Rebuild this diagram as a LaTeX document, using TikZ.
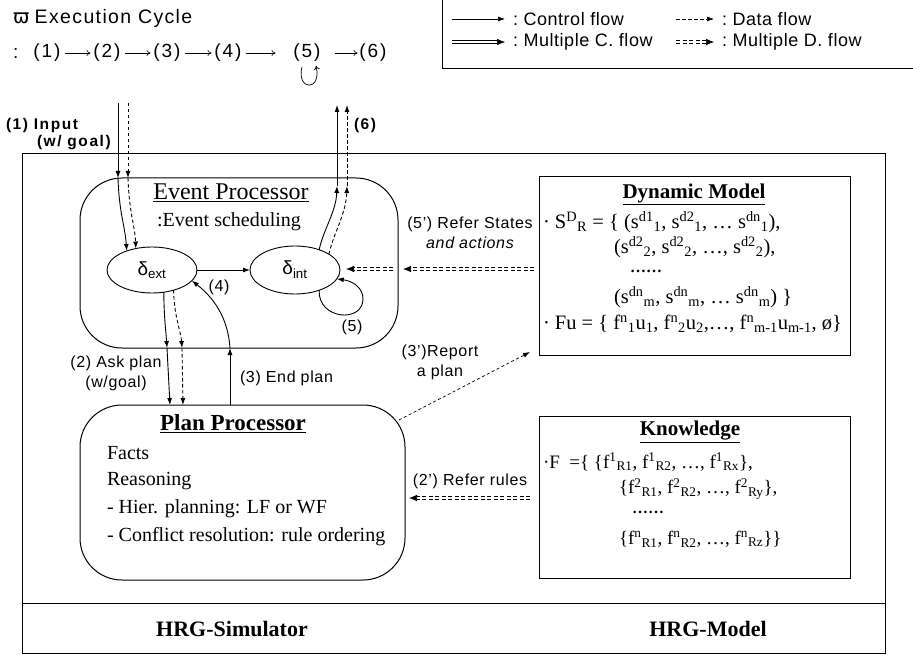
\documentclass[tikz,border=0pt]{standalone}
\usepackage{fontspec}
\setmainfont{Liberation Serif}
\setsansfont{Liberation Sans}
\newfontfamily\symfont{DejaVu Sans}
\usetikzlibrary{arrows.meta,shapes.geometric,calc}

% superscript followed by a staggered subscript
\newcommand{\supsub}[3]{#1\textsuperscript{#2}\textsubscript{#3}}

\begin{document}
\begin{tikzpicture}[x=1pt,y=-1pt,
  every node/.style={inner sep=0pt,outer sep=0pt},
  cflow/.style={line width=0.9pt,-{Latex[length=7pt,width=5pt]}},
  dflow/.style={line width=0.9pt,dash pattern=on 3.5pt off 2.5pt,-{Latex[length=7pt,width=5pt]}},
  thindash/.style={line width=0.7pt,dash pattern=on 3pt off 2.5pt,-{Latex[length=7pt,width=5pt]}},
  mcflow/.style={line width=0.7pt,double,double distance=2.2pt,-{Latex[length=8pt,width=6.5pt]}},
  mdflow/.style={line width=0.7pt,double,double distance=2.2pt,dash pattern=on 4pt off 2.5pt,-{Latex[length=8pt,width=6.5pt]}},
  seqarrow/.style={line width=0.6pt,-{To[length=4pt,width=6pt]}},
  procbox/.style={draw,line width=1pt,rounded corners=42pt},
  modelbox/.style={draw,line width=1pt},
  frame/.style={draw,line width=0.9pt},
  lbl/.style={font=\sffamily\fontsize{16}{20}\selectfont\addfontfeature{LetterSpace=4}},
  blbl/.style={font=\sffamily\bfseries\fontsize{15.5}{18}\selectfont\addfontfeature{LetterSpace=10}},
  legtext/.style={font=\sffamily\fontsize{18}{20}\selectfont\addfontfeature{LetterSpace=3},anchor=west},
  seqtext/.style={font=\sffamily\fontsize{19}{22}\selectfont\addfontfeature{LetterSpace=10}},
  body/.style={font=\fontsize{20}{22}\selectfont,anchor=west},
  mtext/.style={font=\fontsize{20.5}{22}\selectfont,anchor=west},
  ktext/.style={font=\fontsize{19}{21}\selectfont,anchor=west},
  dotrow/.style={font=\bfseries\fontsize{16}{16}\selectfont,anchor=west},
  ellipsenode/.style={draw,ellipse,line width=0.9pt,font=\sffamily\fontsize{19}{21}\selectfont},
]
\useasboundingbox (0,0) rectangle (913,655);

% ---------- heading and execution cycle ----------
\node[anchor=west,font=\sffamily\fontsize{19.5}{22}\selectfont] (head) at (13,18)
  {{\symfont ϖ}\ \addfontfeature{LetterSpace=7}Execution Cycle};
\node[seqtext,anchor=west] (s0) at (13,53) {:};
\node[seqtext] (s1) at (47,53) {(1)};
\node[seqtext] (s2) at (107,53) {(2)};
\node[seqtext] (s3) at (167,53) {(3)};
\node[seqtext] (s4) at (228,53) {(4)};
\node[seqtext] (s5) at (307,53) {(5)};
\node[seqtext] (s6) at (373,53) {(6)};
\draw[seqarrow] ($(s1.east)+(4,0)$) -- ($(s2.west)+(-3,0)$);
\draw[seqarrow] ($(s2.east)+(4,0)$) -- ($(s3.west)+(-3,0)$);
\draw[seqarrow] ($(s3.east)+(4,0)$) -- ($(s4.west)+(-3,0)$);
\draw[seqarrow] ($(s4.east)+(4,0)$) -- ($(s4.east)+(34,0)$);
\draw[seqarrow] ($(s5.east)+(14,0)$) -- ($(s6.west)+(-2,0)$);
\coordinate (lpA) at ($(s5.south)+(-5,5)$);
\coordinate (lpB) at ($(s5.south)+(9,4)$);
\draw[line width=0.7pt,-{To[length=4pt,width=6pt]}] (lpA)
  .. controls +(-6,24) and +(6,26) .. (lpB);

% ---------- legend ----------
\node[frame,minimum width=474pt,minimum height=70pt] (legend) at (679,33) {};
\coordinate (l1a) at (452,19); \coordinate (l1b) at (505,19);
\coordinate (l2a) at (676,19); \coordinate (l2b) at (714,19);
\coordinate (l3a) at (452,42); \coordinate (l3b) at (505,42);
\coordinate (l4a) at (676,42); \coordinate (l4b) at (714,42);
\draw[cflow,line width=0.6pt] (l1a) -- (l1b);
\draw[dflow,line width=0.6pt] (l2a) -- (l2b);
\draw[mcflow,line width=0.6pt] (l3a) -- (l3b);
\draw[mdflow,line width=0.6pt] (l4a) -- (l4b);
\node[legtext] (lt1) at (513,19) {:\ Control flow};
\node[legtext] (lt2) at (722,19) {:\ Data flow};
\node[legtext] (lt3) at (513,42) {:\ Multiple C. flow};
\node[legtext] (lt4) at (722,42) {:\ Multiple D. flow};

% ---------- outer frame ----------
\node[frame,minimum width=863pt,minimum height=500pt] (outer) at (453.5,403) {};
\draw[line width=0.9pt] (outer.west |- 0,603) -- (outer.east |- 0,603);
\node[font=\bfseries\fontsize{22}{24}\selectfont] (sim) at (232,629) {HRG-Simulator};
\node[font=\bfseries\fontsize{22}{24}\selectfont] (mdl) at (708,629) {HRG-Model};

% ---------- event processor ----------
\node[procbox,minimum width=318pt,minimum height=170pt] (ep) at (239,263) {};
\node[font=\fontsize{24}{26}\selectfont] (eptitle) at (231,193) {\underline{Event Processor}};
\node[font=\fontsize{20}{22}\selectfont] (epsub) at (229,222) {:Event scheduling};
\node[ellipsenode,minimum width=90pt,minimum height=46pt] (dext) at (152,270) {δ\textsubscript{ext}};
\node[ellipsenode,minimum width=90pt,minimum height=48pt] (dint) at (295,270) {δ\textsubscript{int}};

% ---------- plan processor ----------
\node[procbox,minimum width=325pt,minimum height=175pt] (pp) at (242.5,492.5) {};
\node[font=\bfseries\fontsize{23}{25}\selectfont] (pptitle) at (233,424) {\underline{Plan Processor}};
\node[body] (pp1) at (107,453) {Facts};
\node[body] (pp2) at (107,481) {Reasoning};
\node[body] (pp3) at (107,509) {- Hier. planning: LF or WF};
\node[body] (pp4) at (107,537) {- Conflict resolution: rule ordering};

% ---------- dynamic model ----------
\node[modelbox,minimum width=311pt,minimum height=178pt] (dm) at (694.5,266) {};
\node[font=\bfseries\fontsize{21}{23}\selectfont] (dmtitle) at (694,194) {\underline{Dynamic Model}};
\node[mtext] (dm1) at (543,222) {· \supsub{S}{D}{R} = \{ (\supsub{s}{d1}{1}, \supsub{s}{d2}{1}, … \supsub{s}{dn}{1}),};
\node[mtext] (dm2) at (614,247) {(\supsub{s}{d2}{2}, \supsub{s}{d2}{2}, …, \supsub{s}{d2}{2}),};
\node[dotrow] (dm3) at (630,271) {……};
\node[mtext] (dm4) at (614,297) {(\supsub{s}{dn}{m}, \supsub{s}{dn}{m}, … \supsub{s}{dn}{m}) \}};
\node[mtext] (dm5) at (543,324) {· Fu = \{ \supsub{f}{n}{1}u\textsubscript{1}, \supsub{f}{n}{2}u\textsubscript{2},…, \supsub{f}{n}{m-1}u\textsubscript{m-1}, ø\}};

% ---------- knowledge ----------
\node[modelbox,minimum width=311pt,minimum height=162pt] (kn) at (694.5,497) {};
\node[font=\bfseries\fontsize{21}{23}\selectfont] (kntitle) at (690,432) {\underline{Knowledge}};
\node[ktext] (kn1) at (543,462) {·F\ \ =\{ \{\supsub{f}{1}{R1}, \supsub{f}{1}{R2}, …, \supsub{f}{1}{Rx}\},};
\node[ktext] (kn2) at (619,489) {\{\supsub{f}{2}{R1}, \supsub{f}{2}{R2}, …, \supsub{f}{2}{Ry}\},};
\node[dotrow] (kn3) at (632,512) {……};
\node[ktext] (kn4) at (619,539) {\{\supsub{f}{n}{R1}, \supsub{f}{n}{R2}, …, \supsub{f}{n}{Rz}\}\}};

% ---------- labels ----------
\node[blbl,anchor=west] (in1) at (6,125) {(1) Input};
\node[blbl,anchor=west] (in2) at (37,143) {(w/ goal)};
\node[blbl,anchor=west] (out6) at (354,125) {(6)};
\node[lbl] (l4) at (219,287) {(4)};
\node[lbl] (l5) at (352,327) {(5)};
\node[lbl,align=center] (l2) at (116,373) {(2) Ask plan\\(w/goal)};
\node[lbl,anchor=west] (l3) at (240,378) {(3) End plan};
\node[lbl,align=center] (l5p) at (470,233) {(5') Refer States\\\itshape and actions};
\node[lbl,align=center] (l3p) at (440,362) {(3')Report\\a plan};
\node[lbl] (l2p) at (470,481) {(2') Refer rules};

% ---------- (1) input to delta_ext ----------
\coordinate (inS) at (118,103);
\coordinate (inD) at (128,103);
\coordinate (inSm) at (118,178);
\coordinate (inDm) at (128,178);
\draw[cflow] (inS) -- (inSm);
\draw[dflow] (inD) -- (inDm);
\draw[cflow] (inSm) .. controls (119,212) and (125,226) .. (dext.143);
\draw[dflow] (inDm) .. controls (129,212) and (135,226) .. (dext.127);

% ---------- (6) delta_int to output ----------
\coordinate (outSm) at (337,186);
\coordinate (outDm) at (347,186);
\coordinate (outS) at (337,105);
\coordinate (outD) at (347,105);
\draw[cflow] (dint.40) .. controls (324,228) and (336,212) .. (outSm);
\draw[dflow] (dint.25) .. controls (334,232) and (346,214) .. (outDm);
\draw[cflow] (outSm) -- (outS);
\draw[dflow] (outDm) -- (outD);

% ---------- (4) ----------
\draw[cflow] (dext.east) -- (dint.west);

% ---------- (5) self loop ----------
\draw[cflow] (dint.-40) .. controls (318,320) and (363,323) .. (363,299)
  .. controls (363,287) and (352,281) .. (dint.-12);

% ---------- (2) ask plan ----------
\coordinate (askSm) at (167,348);
\coordinate (askDm) at (182,348);
\coordinate (askS) at (170,405);
\coordinate (askD) at (183,405);
\draw[cflow] (dext.-62) .. controls (164,318) and (166,332) .. (askSm);
\draw[dflow] (dext.-43) .. controls (174,316) and (181,332) .. (askDm);
\draw[cflow] (askSm) -- (askS);
\draw[dflow] (askDm) -- (askD);

% ---------- (3) end plan ----------
\coordinate (endA) at (230,405);
\coordinate (endB) at (230,348);
\draw[cflow] (endA) -- (endB);
\draw[cflow] (endB) .. controls (228,318) and (214,298) .. (dext.-15);

% ---------- (5') refer states ----------
\coordinate (r5a) at (534,269);
\coordinate (r5b) at (403,269);
\coordinate (r5c) at (393,269);
\coordinate (r5d) at (346,269);
\draw[mdflow] (r5a) -- (r5b);
\draw[mdflow] (r5c) -- (r5d);

% ---------- (3') report a plan ----------
\coordinate (r3a) at (399,420);
\coordinate (r3b) at (530,352);
\draw[thindash] (r3a) -- (r3b);

% ---------- (2') refer rules ----------
\coordinate (r2a) at (530,498);
\coordinate (r2b) at (409,498);
\draw[mdflow] (r2a) -- (r2b);
\end{tikzpicture}
\end{document}
